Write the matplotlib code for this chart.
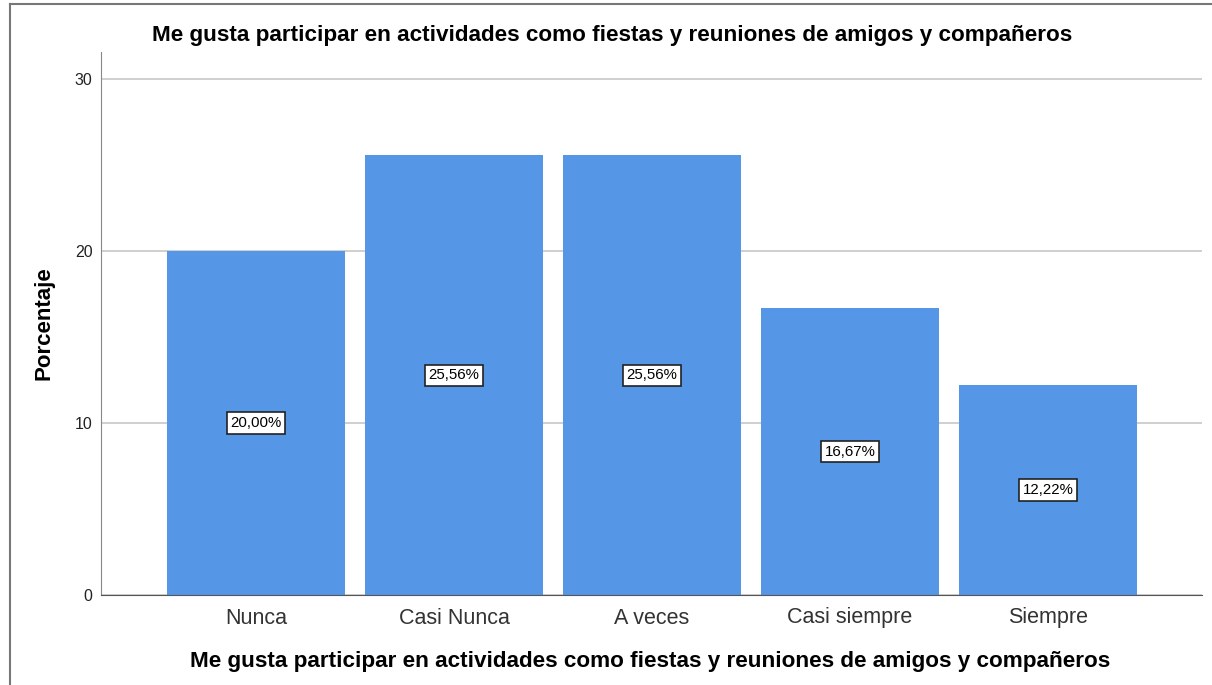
import matplotlib
matplotlib.use("Agg")
import matplotlib.pyplot as plt
from matplotlib.lines import Line2D

categories = ["Nunca", "Casi Nunca", "A veces", "Casi siempre", "Siempre"]
values = [20.00, 25.56, 25.56, 16.67, 12.22]
labels = ["20,00%", "25,56%", "25,56%", "16,67%", "12,22%"]
title = "Me gusta participar en actividades como fiestas y reuniones de amigos y compañeros"

plt.rcParams['font.family'] = ['Liberation Sans', 'DejaVu Sans']

fig = plt.figure(figsize=(12.12, 6.85), dpi=100)
ax = fig.add_axes([101/1212, 1 - 595/685, (1202-101)/1212, (595-52)/685])

x = list(range(len(categories)))
ax.bar(x, values, width=0.9, color='#5596e6', zorder=2)
for xi, v, lab in zip(x, values, labels):
    ax.text(xi, v/2, lab, ha='center', va='center', fontsize=10.8, zorder=3,
            bbox=dict(boxstyle='square,pad=0.24', fc='white', ec='#222222', lw=1.2))

ax.set_xlim(-0.783, 4.778)
ax.set_ylim(0, 31.57)
ax.set_yticks([0, 10, 20, 30])
ax.set_xticks(x)
ax.set_xticklabels(categories, fontsize=15.5, color='#333333')
ax.tick_params(axis='y', labelsize=11.5, length=0, pad=6, labelcolor='#222222')
ax.tick_params(axis='x', length=0, pad=9)
ax.yaxis.grid(True, color='#cccccc', lw=1.3, zorder=0)
ax.set_axisbelow(True)
for s in ['top', 'right']:
    ax.spines[s].set_visible(False)
ax.spines['left'].set_color('#888888')
ax.spines['bottom'].set_color('#555555')

ax.set_ylabel("Porcentaje", fontsize=16, fontweight='bold')
ax.yaxis.set_label_coords((55 - 101) / (1202 - 101), 0.5)
fig.text(612/1212, 1 - 35/685, title, ha='center', va='center', fontsize=16.2, fontweight='bold')
fig.text(650/1212, 1 - 661/685, title, ha='center', va='center', fontsize=16.2, fontweight='bold')

fig.add_artist(Line2D([10/1212, 10/1212], [0, 1 - 3.5/685], color='#777777', lw=1.5, transform=fig.transFigure))
fig.add_artist(Line2D([10/1212, 1], [1 - 3.5/685, 1 - 3.5/685], color='#777777', lw=1.5, transform=fig.transFigure))

fig.savefig("out.png", dpi=100)
